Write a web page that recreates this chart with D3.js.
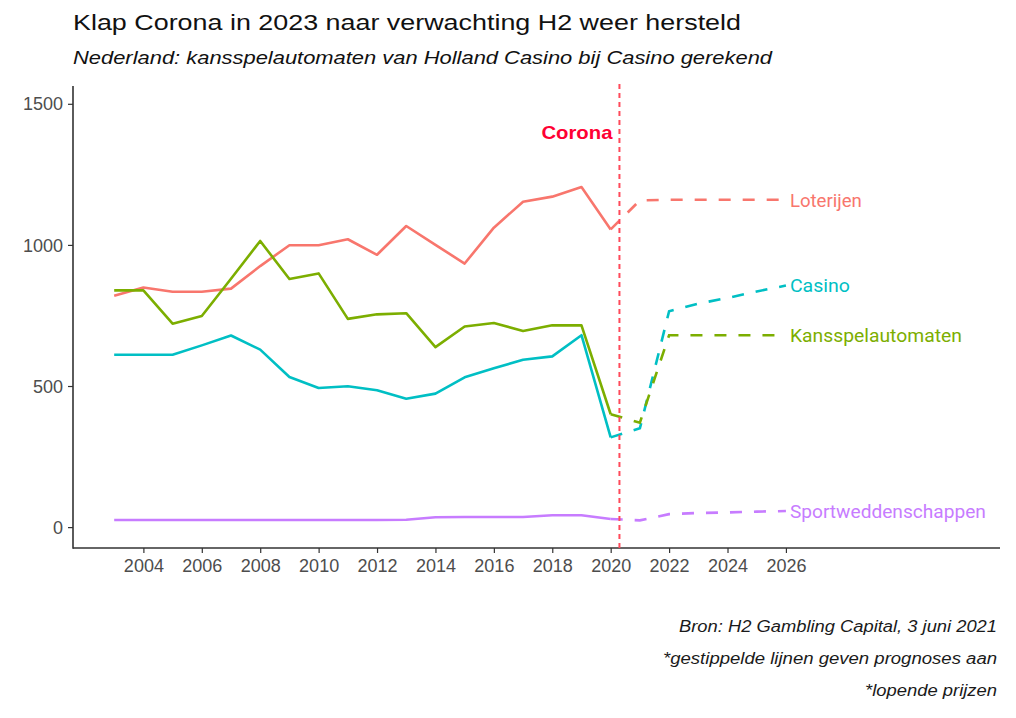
<!DOCTYPE html>
<html>
<head>
<meta charset="utf-8">
<script src="https://cdn.jsdelivr.net/npm/d3@7"></script>
<style>
  html, body { margin: 0; padding: 0; background: #fff; }
  svg { display: block; }
</style>
</head>
<body>
<svg id="chart" width="1016" height="718"></svg>
<script>
// ---- data ----
const histYears = [2003,2004,2005,2006,2007,2008,2009,2010,2011,2012,2013,2014,2015,2016,2017,2018,2019,2020];
const fcYears   = [2020,2021,2022,2023,2024,2025,2026];

const loterijenHist = [820,849,834,834,845,925,999,999,1020,965,1067,1000,934,1061,1153,1171,1205,1055];
const casinoHist    = [611,611,611,644,679,629,532,493,499,485,455,473,531,563,593,605,680,318];
const kansHist      = [839,839,721,748,880,1014,879,899,738,754,758,638,711,723,695,715,715,400];
const sportHist     = [25,25,25,25,25,25,25,25,25,25,26,35,36,36,36,42,42,29];

const loterijenFc = [1055,1158,1160,1160,1160,1160,1160];
const casinoFc    = [318,350,765,792,812,835,856];
const kansFc      = [400,370,680,680,680,680,680];
const sportFc     = [29,24,46,50,52,55,57];

const seriesNames  = ["Loterijen","Casino","Kansspelautomaten","Sportweddenschappen"];
const seriesColors = ["#F8766D","#00BFC4","#7CAE00","#C77CFF"];
const xTicks = [2004,2006,2008,2010,2012,2014,2016,2018,2020,2022,2024,2026];
const yTicks = [0,500,1000,1500];
const coronaYear = 2020.3;

const titleText = "Klap Corona in 2023 naar verwachting H2 weer hersteld";
const subtitleText = "Nederland: kansspelautomaten van Holland Casino bij Casino gerekend";
const captionLines = ["Bron: H2 Gambling Capital, 3 juni 2021","*gestippelde lijnen geven prognoses aan","*lopende prijzen"];

const histSeries = [loterijenHist, casinoHist, kansHist, sportHist];
const fcSeries   = [loterijenFc, casinoFc, kansFc, sportFc];

// ---- layout ----
const svg = d3.select("#chart");
const panel = {left: 73, right: 1000, top: 88, bottom: 548};

const x = d3.scaleLinear().domain([2001.59, 2033.33]).range([panel.left, panel.right]);
const y = d3.scaleLinear().domain([-74, 1556]).range([panel.bottom, panel.top]);

const line = d3.line().x(d => x(d[0])).y(d => y(d[1]));

// title & subtitle
svg.append("text")
  .attr("x", 73).attr("y", 30)
  .attr("font-family", "Liberation Sans, Arial, sans-serif")
  .attr("font-size", 22.5)
  .attr("fill", "#111")
  .attr("textLength", 668).attr("lengthAdjust", "spacingAndGlyphs")
  .text(titleText);

svg.append("text")
  .attr("x", 73).attr("y", 64)
  .attr("font-family", "Liberation Sans, Arial, sans-serif")
  .attr("font-style", "italic")
  .attr("font-size", 19)
  .attr("fill", "#111")
  .attr("textLength", 699).attr("lengthAdjust", "spacingAndGlyphs")
  .text(subtitleText);

// axes
const yAxis = d3.axisLeft(y).tickValues(yTicks).tickSize(5).tickPadding(5).tickFormat(d3.format("d"));
const gy = svg.append("g").attr("transform", `translate(${panel.left},0)`).call(yAxis);
gy.select(".domain").remove();
gy.selectAll(".tick line").attr("stroke", "#333").attr("stroke-width", 1.2);
gy.selectAll(".tick text")
  .attr("font-family", "Liberation Sans, Arial, sans-serif")
  .attr("font-size", 18).attr("fill", "#4D4D4D").attr("dy", "0.34em");

const xAxis = d3.axisBottom(x).tickValues(xTicks).tickSize(5).tickPadding(6).tickFormat(d3.format("d"));
const gx = svg.append("g").attr("transform", `translate(0,${panel.bottom})`).call(xAxis);
gx.select(".domain").remove();
gx.selectAll(".tick line").attr("stroke", "#333").attr("stroke-width", 1.2);
gx.selectAll(".tick text")
  .attr("font-family", "Liberation Sans, Arial, sans-serif")
  .attr("font-size", 18).attr("fill", "#4D4D4D").attr("dy", "0.71em");

// axis lines
svg.append("line")
  .attr("x1", panel.left).attr("x2", panel.left)
  .attr("y1", panel.top - 2).attr("y2", panel.bottom + 0.8)
  .attr("stroke", "#333").attr("stroke-width", 1.6);
svg.append("line")
  .attr("x1", panel.left).attr("x2", panel.right)
  .attr("y1", panel.bottom).attr("y2", panel.bottom)
  .attr("stroke", "#333").attr("stroke-width", 1.6);

// historical lines (solid)
const gLines = svg.append("g");
histSeries.forEach((vals, i) => {
  gLines.append("path")
    .datum(histYears.map((yr, j) => [yr, vals[j]]))
    .attr("d", line)
    .attr("fill", "none")
    .attr("stroke", seriesColors[i])
    .attr("stroke-width", 2.6)
    .attr("stroke-linejoin", "round");
});

// forecast lines (dashed)
fcSeries.forEach((vals, i) => {
  gLines.append("path")
    .datum(fcYears.map((yr, j) => [yr, vals[j]]))
    .attr("d", line)
    .attr("fill", "none")
    .attr("stroke", seriesColors[i])
    .attr("stroke-width", 2.6)
    .attr("stroke-dasharray", "12,12");
});

// corona line
svg.append("line")
  .attr("x1", x(coronaYear)).attr("x2", x(coronaYear))
  .attr("y1", panel.top - 4).attr("y2", panel.bottom)
  .attr("stroke", "#FF4A5A").attr("stroke-width", 2)
  .attr("stroke-dasharray", "5,4");

svg.append("text")
  .attr("x", x(coronaYear) - 7).attr("y", 139)
  .attr("text-anchor", "end")
  .attr("font-family", "Liberation Sans, Arial, sans-serif")
  .attr("font-weight", "bold")
  .attr("font-size", 19)
  .attr("fill", "#FF0033")
  .attr("textLength", 71).attr("lengthAdjust", "spacingAndGlyphs")
  .text("Corona");

// end labels
const labelWidths = [72, 60, 172, 196];
seriesNames.forEach((name, i) => {
  const last = fcSeries[i][fcSeries[i].length - 1];
  svg.append("text")
    .attr("x", x(2026) + 4)
    .attr("y", y(last))
    .attr("dy", "0.36em")
    .attr("font-family", "Roboto, Liberation Sans, sans-serif")
    .attr("font-size", 19)
    .attr("fill", seriesColors[i])
    .attr("textLength", labelWidths[i]).attr("lengthAdjust", "spacingAndGlyphs")
    .text(name);
});

// captions
const capY = [632, 664, 696];
const capW = [318, 334, 132];
captionLines.forEach((t, i) => {
  svg.append("text")
    .attr("x", 997).attr("y", capY[i])
    .attr("text-anchor", "end")
    .attr("font-family", "Liberation Sans, Arial, sans-serif")
    .attr("font-style", "italic")
    .attr("font-size", 16)
    .attr("fill", "#1a1a1a")
    .attr("textLength", capW[i]).attr("lengthAdjust", "spacingAndGlyphs")
    .text(t);
});
</script>
</body>
</html>
